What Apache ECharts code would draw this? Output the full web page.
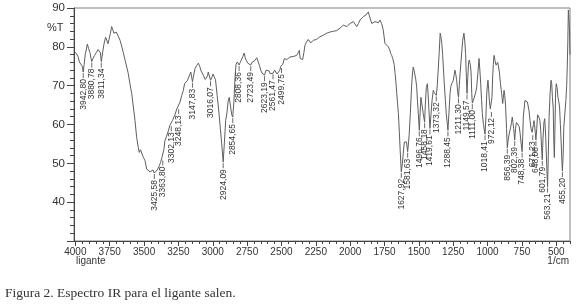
<!DOCTYPE html>
<html>
<head>
<meta charset="utf-8">
<script src="https://cdn.jsdelivr.net/npm/echarts@6.0.0/dist/echarts.min.js"></script>
<style>
  html, body { margin: 0; padding: 0; background: #fff; }
  #main { width: 580px; height: 304px; }
</style>
</head>
<body>
<div id="main"></div>
<script>
// IR spectrum: wavenumber (1/cm) and %T
const spectrumWn = [
  4000, 3990, 3980, 3971, 3959, 3950, 3942.8, 3936, 3928, 3913, 3903, 3894, 3886, 3880.8, 3872, 3860,
  3848, 3835, 3824, 3818, 3811.3, 3802, 3792, 3780, 3772, 3762, 3753, 3745, 3736, 3728, 3720, 3712,
  3702, 3695, 3685, 3675, 3663, 3651, 3638, 3626, 3615, 3603, 3590, 3578, 3566, 3554, 3542, 3535,
  3526, 3517, 3505, 3493, 3481, 3469, 3456, 3444, 3435, 3425.6, 3415, 3404, 3392, 3380, 3370, 3363.8,
  3356, 3348, 3336, 3324, 3312, 3302.1, 3294, 3285, 3275, 3262, 3255, 3248.1, 3238, 3226, 3215, 3205,
  3195, 3185, 3171, 3160, 3155, 3147.8, 3140, 3129, 3117, 3105, 3095, 3085, 3069, 3055, 3044, 3038,
  3033, 3025, 3016.1, 3008, 2998, 2989, 2980, 2968, 2955, 2945, 2935, 2924.1, 2916, 2906, 2897, 2888,
  2880, 2872, 2862, 2854.7, 2846, 2838, 2831, 2821, 2815, 2808.4, 2800, 2791, 2781, 2771, 2764, 2756,
  2745, 2735, 2723.5, 2715, 2705, 2693, 2680, 2669, 2660, 2651, 2641, 2632, 2623.2, 2612, 2600, 2590,
  2583, 2572, 2561.5, 2550, 2540, 2532, 2523, 2512, 2505, 2499.8, 2490, 2479, 2470, 2462, 2450, 2438,
  2426, 2414, 2400, 2389, 2378, 2370, 2364, 2355, 2346, 2337, 2329, 2318, 2305, 2295, 2287, 2278,
  2268, 2256, 2244, 2232, 2220, 2208, 2196, 2184, 2171, 2160, 2148, 2134, 2122, 2110, 2098, 2086,
  2074, 2062, 2050, 2038, 2025, 2013, 2001, 1990, 1977, 1965, 1952, 1940, 1928, 1916, 1904, 1895,
  1885, 1876, 1868, 1860, 1851, 1842, 1832, 1820, 1807, 1795, 1783, 1771, 1759, 1747, 1735, 1722,
  1712, 1705, 1697, 1690, 1680, 1673, 1666, 1661, 1655, 1649, 1642, 1636, 1627.9, 1620, 1614, 1606,
  1598, 1590, 1581.6, 1576, 1570, 1562, 1553, 1547, 1541, 1535, 1528, 1522, 1516, 1510, 1504, 1496.8,
  1491, 1485, 1480, 1475, 1468, 1458.2, 1453, 1446, 1438, 1433, 1428, 1419.6, 1412, 1404, 1395, 1388,
  1382, 1373.3, 1366, 1358, 1352, 1345, 1339, 1333, 1327, 1322, 1315, 1307, 1300, 1293, 1288.5, 1281,
  1273, 1267, 1261, 1255, 1249, 1243, 1237, 1231, 1225, 1218, 1211.3, 1206, 1200, 1194, 1187, 1181,
  1172, 1166, 1160, 1154, 1149.6, 1144, 1138, 1133, 1126, 1120, 1115, 1111, 1104, 1098, 1092, 1085,
  1079, 1071, 1062, 1056, 1050, 1044, 1038, 1030, 1018.4, 1012, 1006, 1001, 997, 992, 987, 980,
  972.1, 968, 963, 958, 953, 946, 938, 932, 926, 920, 914, 906, 897, 890, 885, 880,
  875, 869, 862, 856.4, 850, 843, 832, 826, 820, 815, 810, 802.4, 796, 790, 783, 777,
  770, 764, 757, 748.4, 744, 740, 734, 728, 722, 716, 710, 704, 698, 691, 684, 676,
  671.2, 666, 662, 658, 653, 648.1, 642, 636, 631, 625, 619, 613, 607, 601.8, 597, 590,
  584, 577, 570, 563.2, 558, 552, 545, 538, 533, 528, 522, 518, 514, 510, 505, 500,
  494, 488, 482, 476, 470, 464, 459, 455.2, 450, 445, 437, 430, 424, 420, 416, 412,
  408, 404, 400
];
const spectrumT = [
  78.6, 78.4, 77.5, 76.1, 76.6, 75, 73.5, 75.5, 78, 80.7, 79.5, 78.5, 77, 76.2, 77, 77.8,
  78.5, 79.3, 79.5, 78.5, 76.2, 78.5, 80.7, 82.5, 82.2, 80.8, 81.3, 83.5, 85.2, 84.5, 83.5, 83,
  83.8, 83.7, 82.5, 81.7, 80.2, 78.5, 76.5, 74.8, 73.1, 70.5, 68, 64.5, 61, 56.7, 54.1, 52.8,
  53.5, 53.3, 51.5, 50.7, 48.5, 48.1, 47.8, 47.5, 48.3, 47.5, 48, 48.3, 49.2, 50.2, 51.5, 51,
  53.5, 55.9, 57, 58.3, 59.8, 59.8, 61, 61.5, 62.5, 64, 64.5, 64.2, 65.8, 67.5, 68.7, 70.5,
  70, 71.3, 72.5, 73.5, 72.5, 71, 72.5, 74.4, 75.2, 75.8, 75, 73.8, 72.7, 71.6, 71.3, 72.5,
  73.5, 72.5, 71.4, 72, 73, 72.7, 71.5, 67.5, 63, 59, 55, 50.3, 55, 61, 63, 66,
  67, 65, 62.5, 61.9, 66, 72, 75.5, 76.1, 75.8, 75.3, 76, 76.5, 77.5, 78.4, 77.2, 76.5,
  75.8, 75.5, 75.3, 76, 75.8, 76.5, 77.2, 77, 75.2, 74, 73.2, 72.8, 72.7, 74, 74.4, 73.8,
  73.1, 72.8, 73.2, 74, 74.2, 73, 72.8, 74, 75, 74.8, 75.5, 77, 76.5, 76.7, 77, 77.4,
  77.2, 77.5, 77.6, 77.8, 78.5, 79.1, 77, 76.7, 76.7, 78.5, 80.4, 81.2, 81.9, 81.5, 81, 81.4,
  81.7, 81.8, 81.9, 82, 82.6, 82.5, 83, 83.1, 83.5, 83.4, 83.8, 83.9, 84, 84.3, 84.2, 84.5,
  84.8, 85, 85.6, 85.4, 85.2, 85.7, 86, 86.3, 86.5, 86, 85.2, 86, 86.9, 87.3, 87.8, 88,
  88.2, 88.5, 89, 88, 86.9, 86, 85.6, 86.5, 86.8, 86.2, 86.9, 86, 84.3, 80.9, 80.5, 80,
  79.2, 78.3, 77.7, 77, 75.5, 73.1, 70.5, 68, 65.5, 62.8, 58, 53.3, 47.8, 50, 52.4, 55.5,
  56, 55.5, 53, 55, 57.6, 63, 69.7, 73, 74.8, 74, 73.5, 71.5, 69.7, 66, 62.8, 58.5,
  63, 67, 67.2, 66.5, 62.8, 60.6, 65, 69.5, 70.5, 68, 64.5, 59, 62.5, 66.2, 68.8, 68.2,
  67.8, 67.5, 70, 74.8, 78.5, 83.5, 82.5, 80.9, 78, 74.8, 70.5, 66.2, 62.5, 60.2, 58.5, 63,
  68, 69.8, 70.5, 70.8, 71.4, 72.8, 74, 72.8, 71.5, 68.5, 67, 70, 73.1, 76, 79, 81.7,
  83.5, 81.5, 78.3, 72, 68, 72, 76, 76.6, 75.5, 73.5, 68, 65.5, 66, 66.8, 67, 68.5,
  69.7, 73, 77, 74, 70.5, 66.5, 62.8, 60, 57.5, 62, 67.9, 70.2, 71.4, 69, 66.2, 64,
  63.5, 67, 72.2, 75.5, 77.8, 76.5, 75.3, 75.8, 76, 74.8, 73.5, 70.5, 67.9, 65.4, 67, 68.8,
  67.5, 65, 59, 54, 56, 57.5, 59.3, 60.5, 61.9, 60.5, 59, 56, 59, 60.5, 60.5, 60.2,
  59.5, 58, 55.5, 53, 57, 61.9, 64, 66.2, 66.5, 66.3, 65.8, 65.5, 63.5, 61, 59, 58,
  57.5, 60, 61, 60, 58, 56, 59, 62.5, 62.8, 61.8, 61, 58.5, 54, 50.9, 56, 60.5,
  61.5, 57, 50, 44, 52, 62, 68, 71.4, 70.5, 67, 64, 56, 51.5, 58, 68, 70.5,
  69.5, 67, 66, 64.5, 60, 55, 50.5, 48, 52, 59.3, 63, 66.2, 70, 74.8, 81, 89.5,
  89.8, 85, 78
];

// labelled minima
const peakWn = [3942.80, 3880.78, 3811.34, 3425.58, 3363.80, 3302.13, 3248.13, 3147.83, 3016.07,
  2924.09, 2854.65, 2808.36, 2723.49, 2623.19, 2561.47, 2499.75, 1627.92, 1581.63, 1496.76,
  1458.18, 1419.61, 1373.32, 1288.45, 1211.30, 1149.57, 1111.00, 1018.41, 972.12, 856.39,
  802.39, 748.38, 671.23, 648.08, 601.79, 563.21, 455.20];
const peakT = [73.5, 76.2, 76.2, 47.5, 51, 59.8, 64.2, 71, 71.4,
  50.3, 61.9, 75.3, 75.3, 72.7, 73.2, 74.8, 47.8, 53, 58.5,
  60.6, 59, 67.5, 58.5, 67, 68, 65.5, 57.5, 63.5, 54,
  56, 53, 57.5, 56, 50.9, 44, 48];

const xTicks = [4000, 3750, 3500, 3250, 3000, 2750, 2500, 2250, 2000, 1750, 1500, 1250, 1000, 750, 500];
const yTicks = [40, 50, 60, 70, 80, 90];

const xMinorTicks = [];
for (let v = 4000; v >= 400; v -= 50) {
  if (v % 250 !== 0) xMinorTicks.push(v);
}

const FONT = '"Liberation Sans", Arial, sans-serif';
const chart = echarts.init(document.getElementById('main'));

const spectrum = spectrumWn.map((w, i) => [w, spectrumT[i]]);
const peaks = peakWn.map((w, i) => [w, peakT[i]]);
const peakText = peakWn.map(w => w.toFixed(2).replace('.', ','));

const option = {
  animation: false,
  backgroundColor: '#fff',
  grid: {
    left: 74, right: 10, top: 8, bottom: 63,
    show: true, borderColor: '#808080', borderWidth: 1
  },
  xAxis: [
    {
      type: 'value', min: 400, max: 4010, inverse: true,
      splitLine: { show: false },
      axisLine: { show: true, lineStyle: { color: '#444', width: 1 } },
      axisTick: { show: true, customValues: xTicks, length: 5, lineStyle: { color: '#444' } },
      axisLabel: {
        customValues: xTicks, fontSize: 10, color: '#333', fontFamily: FONT, margin: 6,
        formatter: v => String(v)
      }
    },
    {
      type: 'value', min: 400, max: 4010, inverse: true, position: 'bottom',
      splitLine: { show: false },
      axisLine: { show: false },
      axisTick: { show: true, customValues: xMinorTicks, length: 3, lineStyle: { color: '#444' } },
      axisLabel: { show: false }
    }
  ],
  yAxis: {
    type: 'value', min: 30, max: 90, interval: 10,
    splitLine: { show: false },
    axisLine: { show: true, lineStyle: { color: '#444', width: 1 } },
    axisTick: { show: true, length: 7, lineStyle: { color: '#444' } },
    minorTick: { show: true, splitNumber: 5, length: 4, lineStyle: { color: '#444' } },
    axisLabel: {
      fontSize: 11.5, color: '#333', fontFamily: FONT, margin: 9,
      formatter: v => (yTicks.indexOf(v) >= 0 ? String(v) : '')
    }
  },
  series: [
    {
      type: 'line',
      data: spectrum,
      showSymbol: false,
      lineStyle: { color: '#5e5e5e', width: 1 },
      z: 3
    },
    {
      type: 'custom',
      data: peaks,
      z: 4,
      renderItem: (params, api) => {
        const p = api.coord([api.value(0), api.value(1)]);
        return {
          type: 'group',
          children: [
            {
              type: 'line',
              shape: { x1: p[0], y1: p[1] + 1, x2: p[0], y2: p[1] + 6 },
              style: { stroke: '#444', lineWidth: 0.8 }
            },
            {
              type: 'text',
              x: p[0], y: p[1] + 7,
              rotation: Math.PI / 2,
              style: {
                text: peakText[params.dataIndex],
                fontSize: 8.5, fontFamily: FONT, fill: '#333',
                align: 'right', verticalAlign: 'middle'
              }
            }
          ]
        };
      }
    }
  ],
  graphic: [
    { type: 'text', left: 47, top: 22, style: { text: '%T', fontSize: 11, fontFamily: FONT, fill: '#333' } },
    { type: 'text', left: 76, top: 256, style: { text: 'ligante', fontSize: 10, fontFamily: FONT, fill: '#333' } },
    { type: 'text', right: 11, top: 256, style: { text: '1/cm', fontSize: 10, fontFamily: FONT, fill: '#333' } },
    { type: 'text', left: 5, top: 286, style: { text: 'Figura 2. Espectro IR para el ligante salen.', fontSize: 13.5, fontFamily: '"Liberation Serif", "DejaVu Serif", serif', fill: '#333' } }
  ]
};

chart.setOption(option);
</script>
</body>
</html>
